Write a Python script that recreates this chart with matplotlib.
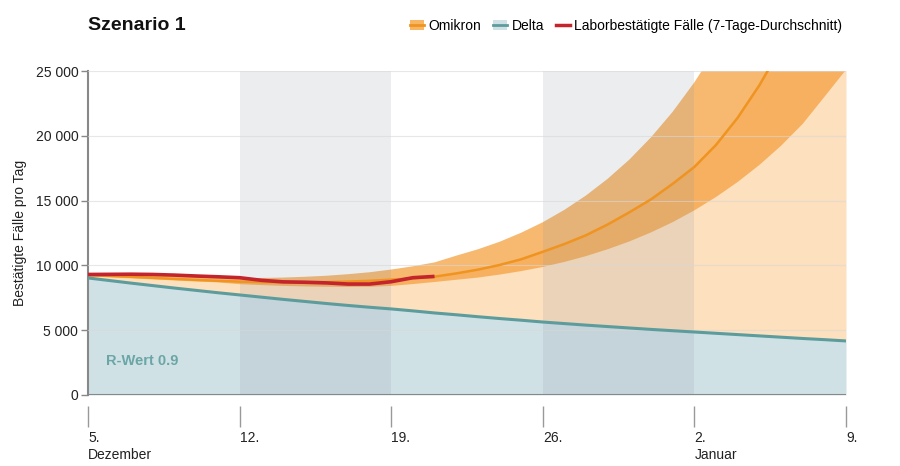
import matplotlib
matplotlib.use("Agg")
import matplotlib.pyplot as plt
from matplotlib.patches import Patch
from matplotlib.lines import Line2D
import pandas as pd

plt.rcParams['font.family'] = ['Liberation Sans', 'DejaVu Sans']

# Data
dates = pd.date_range('2021-12-05', '2022-01-09', freq='D')

delta = [9030, 8830, 8630, 8440, 8250, 8070, 7890, 7720, 7550, 7380, 7220, 7060,
         6910, 6770, 6640, 6490, 6330, 6190, 6040, 5900, 5770, 5630, 5510, 5390,
         5280, 5170, 5060, 4960, 4860, 4760, 4660, 4560, 4460, 4360, 4270, 4170]

omikron_median = [9250, 9190, 9120, 9040, 8960, 8880, 8810, 8750, 8710, 8690, 8690, 8710,
                  8750, 8810, 8900, 9000, 9130, 9380, 9670, 10030, 10470, 11050, 11650, 12330,
                  13160, 14100, 15100, 16300, 17600, 19300, 21400, 23900, 26800, 29900, 33300, 37000]

omikron_lower = [9150, 9080, 9000, 8920, 8840, 8760, 8690, 8550, 8480, 8420, 8380, 8350,
                 8340, 8350, 8420, 8560, 8720, 8890, 9060, 9290, 9560, 9880, 10270, 10720,
                 11250, 11850, 12550, 13340, 14250, 15280, 16440, 17750, 19230, 20920, 23000, 25100]

omikron_upper = [9350, 9310, 9260, 9210, 9160, 9110, 9060, 9020, 9030, 9060, 9120, 9200,
                 9320, 9470, 9680, 9930, 10230, 10750, 11240, 11820, 12520, 13330, 14290, 15400,
                 16690, 18170, 19890, 21860, 24130, 26730, 29700, 33110, 37000, 41460, 46560, 52380]

reported_dates = pd.date_range('2021-12-05', '2021-12-21', freq='D')
reported = [9300, 9310, 9320, 9300, 9250, 9180, 9120, 9050, 8850, 8730, 8700, 8650,
            8560, 8560, 8740, 9050, 9150]

tick_dates = pd.to_datetime(['2021-12-05', '2021-12-12', '2021-12-19',
                             '2021-12-26', '2022-01-02', '2022-01-09'])
tick_labels = ['5.\nDezember', '12.', '19.', '26.', '2.\nJanuar', '9.']
grey_weeks = [('2021-12-12', '2021-12-19'), ('2021-12-26', '2022-01-02')]

# Colours
c_delta_fill = '#d0e1e6'
c_delta_line = '#5d9c9c'
c_omi_fill = '#fde0bd'
c_omi_band = '#f5a040'
c_omi_line = '#ef9420'
c_red = '#c4242c'

fig = plt.figure(figsize=(9, 4.66), dpi=100)
ax = fig.add_axes([0.0978, 0.1524, 0.8422, 0.6952])

# spines first (moving a spine resets the ticks)
for s in ['top', 'right']:
    ax.spines[s].set_visible(False)
ax.spines['left'].set_color('#888888')
ax.spines['left'].set_linewidth(1.5)
ax.spines['bottom'].set_position(('outward', 8))
ax.spines['bottom'].set_visible(False)

ax.fill_between(dates, 0, delta, color=c_delta_fill, lw=0, zorder=1)
ax.fill_between(dates, delta, omikron_median, color=c_omi_fill, lw=0, zorder=1)
ax.fill_between(dates, omikron_lower, omikron_upper, color=c_omi_band, alpha=0.75, lw=0, zorder=2)

for start, end in grey_weeks:
    ax.axvspan(pd.Timestamp(start), pd.Timestamp(end), color='#8e96a0', alpha=0.17, lw=0, zorder=3)

ax.plot(dates, omikron_median, color=c_omi_line, lw=1.8, zorder=4)
ax.plot(dates, delta, color=c_delta_line, lw=2.2, zorder=5)
ax.plot(reported_dates, reported, color=c_red, lw=2.6, zorder=6, solid_capstyle='butt')

# grid
for y in [5000, 10000, 15000, 20000, 25000]:
    ax.axhline(y, color='#d8d8d8', lw=0.8, alpha=0.6, zorder=3.5)
ax.axhline(0, color='#888888', lw=1.5, zorder=7)

ax.set_xlim(dates[0], dates[-1])
ax.set_ylim(0, 25000)

ax.set_yticks([0, 5000, 10000, 15000, 20000, 25000])
ax.set_yticklabels(['0', '5 000', '10 000', '15 000', '20 000', '25 000'])
ax.tick_params(axis='y', length=5, width=1, color='#888888', labelsize=10, labelcolor='#222222', pad=2)
ax.tick_params(axis='x', length=15, width=1, color='#999999', labelsize=10, labelcolor='#222222', pad=3)
ax.set_xticks(tick_dates)
ax.set_xticklabels(tick_labels)
for lbl in ax.get_xticklabels():
    lbl.set_horizontalalignment('left')
    lbl.set_multialignment('left')
    lbl.set_linespacing(1.25)

ax.set_ylabel('Bestätigte Fälle pro Tag', fontsize=10, color='#222222', labelpad=6)

ax.text(pd.Timestamp('2021-12-05 20:00'), 2600, 'R-Wert 0.9', color='#6aa6a6',
        fontsize=10.5, fontweight='bold', va='center', zorder=8)

fig.text(0.0978, 0.945, 'Szenario 1', fontsize=14, fontweight='bold', color='#111111', va='center')

handles = [
    (Patch(facecolor='#f8b563', lw=0), Line2D([], [], color=c_omi_line, lw=2)),
    (Patch(facecolor=c_delta_fill, lw=0), Line2D([], [], color=c_delta_line, lw=2)),
    Line2D([], [], color=c_red, lw=2.5),
]
labels = ['Omikron', 'Delta', 'Laborbestätigte Fälle (7-Tage-Durchschnitt)']
fig.legend(handles, labels, loc='center right', bbox_to_anchor=(0.95, 0.945), ncol=3,
           frameon=False, fontsize=10, handlelength=1.0, handletextpad=0.3, columnspacing=0.9)

fig.savefig('out.png', dpi=100)
